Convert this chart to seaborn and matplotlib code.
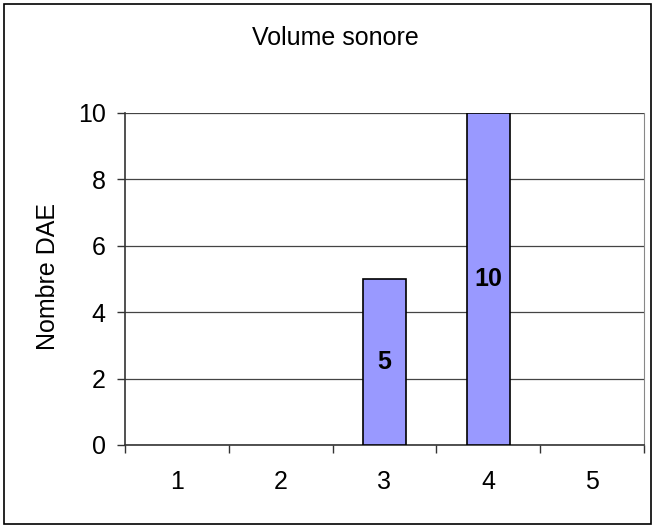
import pandas as pd
import matplotlib
matplotlib.use("Agg")
import matplotlib.pyplot as plt
import seaborn as sns
from matplotlib.patches import Rectangle

# Chart data
categories = ["1", "2", "3", "4", "5"]
counts = [0, 0, 5, 10, 0]
y_ticks = [0, 2, 4, 6, 8, 10]

sns.set_style("white")
plt.rcParams["font.family"] = ["Liberation Sans", "DejaVu Sans"]
plt.rcParams["text.color"] = "black"
plt.rcParams["xtick.labelcolor"] = "black"
plt.rcParams["ytick.labelcolor"] = "black"
FS = 18

df = pd.DataFrame({"volume": categories, "nombre": counts})

fig = plt.figure(figsize=(6.56, 5.27), dpi=100)
ax = fig.add_axes([125 / 656, 1 - 445 / 527, (644 - 125) / 656, (445 - 113) / 527])

sns.barplot(data=df, x="volume", y="nombre", color="#9999FF", saturation=1,
            width=0.41, edgecolor="black", linewidth=1.2, ax=ax, zorder=3)

# hide outline of empty bars
for patch, v in zip(ax.containers[0], counts):
    if v == 0:
        patch.set_linewidth(0)

# value labels inside the bars (skip empty ones)
labels = [str(v) if v > 0 else "" for v in counts]
ax.bar_label(ax.containers[0], labels=labels, label_type="center",
             fontsize=FS, fontweight="bold", color="black")

ax.set_xlim(-0.5, len(categories) - 0.5)
ax.set_ylim(0, 10)
ax.set_yticks(y_ticks)
ax.yaxis.grid(True, color="#444444", linewidth=0.9, zorder=0)
ax.set_axisbelow(True)

# ticks between categories like the spreadsheet style
ax.set_xticks([i - 0.5 for i in range(len(categories) + 1)], minor=True)
ax.tick_params(axis="x", which="major", length=0, labelsize=FS, pad=18)
ax.tick_params(axis="x", which="minor", length=6, width=1, color="#333333", direction="out")
ax.tick_params(axis="y", length=6, width=1, color="#333333", direction="out", labelsize=FS, pad=8)
ax.tick_params(bottom=True, left=True, which="both")

ax.set_xlabel("")
ax.set_ylabel("")
for side in ["left", "bottom"]:
    ax.spines[side].set_color("#333333")
    ax.spines[side].set_linewidth(1.2)
ax.spines["right"].set_color("#888888")
ax.spines["top"].set_visible(False)

fig.text(335 / 656, 1 - 45 / 527, "Volume sonore", ha="center", va="baseline", fontsize=FS)
fig.text(48 / 656, 1 - 276 / 527, "Nombre DAE", ha="center", va="center",
         rotation=90, fontsize=FS)

# outer chart border
fig.patches.append(Rectangle((4 / 656, 3 / 527), 647 / 656, 520 / 527,
                             transform=fig.transFigure, fill=False,
                             edgecolor="black", linewidth=1.2))

fig.savefig("out.png", dpi=100)
